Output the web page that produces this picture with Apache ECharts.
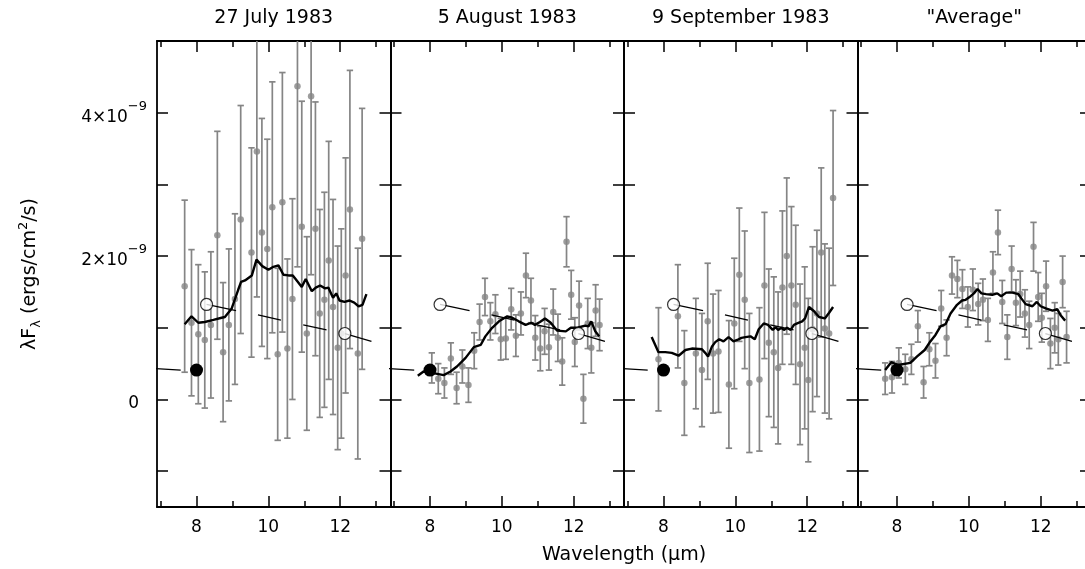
<!DOCTYPE html>
<html><head><meta charset="utf-8">
<script src="https://cdn.jsdelivr.net/npm/echarts@6/dist/echarts.min.js"></script>
<style>html,body{margin:0;padding:0;background:#fff}#c{width:1085px;height:569px}</style>
</head><body><div id="c"></div>
<script>
// ---------------- data (flux in units of 1e-9 ergs/cm2/s) ----------------
const panelTitles = ['27 July 1983', '5 August 1983', '9 September 1983', '"Average"'];
const wavelengths = [7.67, 7.86, 8.05, 8.23, 8.40, 8.58, 8.74, 8.90, 9.07, 9.23, 9.38, 9.53, 9.68, 9.82, 9.97, 10.11, 10.26, 10.39, 10.53, 10.67, 10.81, 10.93, 11.07, 11.19, 11.31, 11.43, 11.56, 11.68, 11.80, 11.93, 12.03, 12.15, 12.27, 12.39, 12.49, 12.61, 12.72];

const julyFlux = [1.58, 1.07, 0.91, 0.83, 1.04, 2.29, 0.66, 1.04, 1.40, 2.51, null, 2.05, 3.46, 2.33, 2.10, 2.68, 0.63, 2.75, 0.71, 1.40, 4.37, 2.41, 0.92, 4.23, 2.38, 1.20, 1.39, 1.94, 1.29, 0.72, 0.92, 1.73, 2.65, null, 0.64, 2.24, null];
const julyErr  = [1.20, 1.02, 0.97, 0.95, 1.02, 1.45, 0.97, 1.06, 1.19, 1.59, null, 1.46, 2.03, 1.59, 1.53, 1.75, 1.20, 1.81, 1.25, 1.40, 2.52, 1.75, 1.35, 2.49, 1.77, 1.45, 1.50, 1.66, 1.50, 1.42, 1.46, 1.64, 1.94, null, 1.47, 1.82, null];

const augFlux = [null, null, 0.44, 0.29, 0.23, 0.57, 0.16, 0.46, 0.20, 0.68, 1.08, 1.43, 1.09, 1.19, 0.84, 0.85, 1.26, 0.89, 1.20, 1.73, 1.38, 0.86, 0.71, 0.95, 0.73, 1.22, 0.86, 0.53, 2.20, 1.46, 0.80, 1.31, 0.01, 1.06, 0.72, 1.24, 1.04];
const augErr  = [null, null, 0.21, 0.21, 0.21, 0.22, 0.22, 0.23, 0.24, 0.25, 0.25, 0.26, 0.26, 0.27, 0.29, 0.29, 0.29, 0.29, 0.30, 0.31, 0.31, 0.31, 0.31, 0.32, 0.32, 0.32, 0.33, 0.33, 0.35, 0.34, 0.34, 0.34, 0.34, 0.35, 0.35, 0.36, 0.36];

const sepFlux = [null, 0.56, null, null, 1.16, 0.23, null, 0.64, 0.41, 1.09, 0.64, 0.67, null, 0.21, 1.06, 1.74, 1.39, 0.23, null, 0.28, 1.59, 0.79, 0.66, 0.44, 1.56, 2.00, 1.59, 1.32, 0.49, 0.72, 0.27, 0.98, 1.20, 2.05, 0.99, 0.92, 2.81];
const sepErr  = [null, 0.72, null, null, 0.72, 0.73, null, 0.77, 0.79, 0.81, 0.83, 0.85, null, 0.89, 0.91, 0.93, 0.96, 0.97, null, 1.00, 1.02, 1.03, 1.05, 1.06, 1.07, 1.09, 1.10, 1.11, 1.12, 1.13, 1.14, 1.15, 1.16, 1.18, 1.18, 1.19, 1.22];

const avgFlux = [0.29, 0.31, 0.51, 0.42, 0.56, 1.02, 0.24, 0.70, 0.54, 1.27, 0.86, 1.73, 1.68, 1.54, 1.29, 1.53, 1.33, 1.39, 1.11, 1.77, 2.33, 1.36, 0.87, 1.82, 1.35, 1.47, 1.20, 1.04, 2.13, 1.43, 1.14, 1.58, 0.78, 1.00, 0.84, 1.64, 0.87];
const avgErr  = [0.22, 0.22, 0.21, 0.21, 0.21, 0.22, 0.22, 0.23, 0.24, 0.25, 0.25, 0.26, 0.26, 0.27, 0.28, 0.29, 0.29, 0.29, 0.30, 0.29, 0.31, 0.30, 0.31, 0.32, 0.32, 0.32, 0.33, 0.33, 0.34, 0.34, 0.34, 0.35, 0.35, 0.35, 0.36, 0.36, 0.36];

const julyCurve = [[7.67,1.05],[7.86,1.16],[8.05,1.07],[8.23,1.08],[8.47,1.11],[8.70,1.14],[8.79,1.15],[8.98,1.27],[9.16,1.53],[9.24,1.64],[9.35,1.66],[9.54,1.73],[9.67,1.95],[9.83,1.86],[10.00,1.81],[10.14,1.85],[10.28,1.87],[10.42,1.74],[10.56,1.73],[10.68,1.73],[10.79,1.66],[10.93,1.57],[11.04,1.68],[11.21,1.51],[11.32,1.56],[11.44,1.59],[11.58,1.55],[11.67,1.56],[11.80,1.42],[11.89,1.48],[11.98,1.38],[12.12,1.36],[12.26,1.38],[12.39,1.35],[12.51,1.30],[12.62,1.32],[12.73,1.47]];
const augCurve = [[7.66,0.33],[7.82,0.39],[8.06,0.37],[8.38,0.34],[8.57,0.39],[8.75,0.46],[8.99,0.58],[9.22,0.73],[9.41,0.76],[9.54,0.88],[9.73,1.00],[9.92,1.09],[10.15,1.16],[10.29,1.14],[10.47,1.09],[10.66,1.04],[10.82,1.07],[10.92,1.04],[11.06,1.08],[11.20,1.13],[11.36,1.07],[11.54,0.96],[11.78,0.95],[11.92,1.00],[12.10,1.00],[12.32,1.03],[12.41,1.02],[12.49,1.09],[12.60,0.95],[12.71,0.88]];
const sepCurve = [[7.67,0.87],[7.86,0.66],[8.05,0.66],[8.23,0.65],[8.42,0.61],[8.61,0.69],[8.79,0.71],[9.07,0.70],[9.16,0.65],[9.24,0.60],[9.35,0.74],[9.44,0.80],[9.55,0.84],[9.67,0.81],[9.81,0.87],[9.95,0.81],[10.05,0.83],[10.17,0.86],[10.28,0.87],[10.42,0.88],[10.54,0.84],[10.65,0.98],[10.79,1.06],[10.91,1.04],[11.04,0.97],[11.12,1.01],[11.19,0.97],[11.28,1.00],[11.35,0.97],[11.44,1.00],[11.54,0.97],[11.63,1.04],[11.72,1.06],[11.86,1.09],[11.94,1.13],[12.05,1.29],[12.19,1.23],[12.33,1.15],[12.49,1.13],[12.61,1.21],[12.72,1.29]];
const avgCurve = [[7.67,0.41],[7.84,0.52],[8.03,0.48],[8.37,0.51],[8.56,0.60],[8.77,0.69],[8.90,0.79],[9.07,0.90],[9.21,1.02],[9.35,1.05],[9.49,1.20],[9.67,1.32],[9.81,1.38],[9.91,1.39],[10.05,1.44],[10.14,1.48],[10.24,1.54],[10.35,1.48],[10.48,1.47],[10.65,1.46],[10.79,1.48],[10.90,1.44],[11.04,1.49],[11.21,1.49],[11.38,1.47],[11.46,1.41],[11.58,1.33],[11.77,1.30],[11.89,1.36],[12.00,1.30],[12.14,1.27],[12.33,1.24],[12.46,1.26],[12.56,1.17],[12.68,1.10]];

// broadband photometry (same in every panel)
const filledPhot = [[8.00, 0.41]];
const openPhot = [[8.28, 1.325], [12.13, 0.92]];
const slopeSegs = [
  [[6.50, 0.44], [7.56, 0.41]],
  [[8.28, 1.325], [9.10, 1.24]],
  [[9.71, 1.18], [10.35, 1.105]],
  [[10.97, 1.04], [11.62, 0.97]],
  [[12.13, 0.92], [12.87, 0.81]]
];

const xMajorTicks = [8, 10, 12];
const xMinorTicks = [7, 9, 11, 13];
const yTicks = [-1, 0, 1, 2, 3, 4];
const yLabelTicks = [0, 2, 4];

// ---------------- layout ----------------
const panels = [
  {flux: julyFlux, err: julyErr, curve: julyCurve},
  {flux: augFlux, err: augErr, curve: augCurve},
  {flux: sepFlux, err: sepErr, curve: sepCurve},
  {flux: avgFlux, err: avgErr, curve: avgCurve}
];
const GL = [157, 390.5, 624, 857.5], GW = 233.5, GT = 41, GH = 466;
const XMIN = 6.9, XMAX = 13.4, YMIN = -1.5, YMAX = 5;
const GRAY = '#858585';
const FONT = 'DejaVu Sans';

const grid = [], xAxis = [], yAxis = [], series = [], graphic = [];

panels.forEach((p, i) => {
  grid.push({left: GL[i], top: GT, width: GW, height: GH, containLabel: false, outerBoundsMode: 'none'});
  const axLine = {show: true, onZero: false, lineStyle: {color: '#000', width: 1.8}};
  const noLine = {show: false, onZero: false};
  const xBase = {type: 'value', gridIndex: i, min: XMIN, max: XMAX, splitLine: {show: false}};
  xAxis.push(Object.assign({}, xBase, {
    position: 'bottom', axisLine: axLine,
    axisTick: {show: true, inside: true, length: 11, customValues: xMajorTicks, lineStyle: {color: '#000', width: 1.5}},
    axisLabel: {show: true, customValues: xMajorTicks, margin: 12, fontSize: 17, color: '#000', fontFamily: FONT}
  }));
  xAxis.push(Object.assign({}, xBase, {
    position: 'bottom', axisLine: noLine,
    axisTick: {show: true, inside: true, length: 6, customValues: xMinorTicks, lineStyle: {color: '#000', width: 1.5}},
    axisLabel: {show: false}
  }));
  xAxis.push(Object.assign({}, xBase, {
    position: 'top', axisLine: axLine,
    axisTick: {show: true, inside: true, length: 11, customValues: xMajorTicks, lineStyle: {color: '#000', width: 1.5}},
    axisLabel: {show: false}
  }));
  xAxis.push(Object.assign({}, xBase, {
    position: 'top', axisLine: noLine,
    axisTick: {show: true, inside: true, length: 6, customValues: xMinorTicks, lineStyle: {color: '#000', width: 1.5}},
    axisLabel: {show: false}
  }));
  const yBase = {type: 'value', gridIndex: i, min: YMIN, max: YMAX, splitLine: {show: false}, axisLine: axLine,
    axisTick: {show: true, inside: true, length: 11, customValues: yTicks, lineStyle: {color: '#000', width: 1.5}}};
  yAxis.push(Object.assign({}, yBase, {
    position: 'left',
    axisLabel: i === 0 ? {
      show: true, customValues: yLabelTicks, margin: 10, color: '#000', fontFamily: FONT,
      formatter: v => v === 0 ? '{z|0}' : '{b|' + v + '×10}{s|−9}',
      rich: {
        z: {fontSize: 17, fontFamily: FONT, color: '#000', lineHeight: 26, verticalAlign: 'bottom', padding: [0, 8, 0, 0]},
        b: {fontSize: 17, fontFamily: FONT, color: '#000', lineHeight: 26, verticalAlign: 'bottom'},
        s: {fontSize: 13, fontFamily: FONT, color: '#000', lineHeight: 13, verticalAlign: 'top'}
      }
    } : {show: false}
  }));
  yAxis.push(Object.assign({}, yBase, {position: 'right', axisLabel: {show: false}}));

  const pts = [];
  wavelengths.forEach((w, k) => {
    if (p.flux[k] !== null) pts.push([w, p.flux[k], p.err[k]]);
  });
  const xi = i * 4, yi = i * 2;
  series.push({
    type: 'custom', xAxisIndex: xi, yAxisIndex: yi, z: 2, silent: true,
    data: pts, encode: {x: 0, y: 1},
    renderItem: (params, api) => {
      const x = api.value(0), y = api.value(1), e = api.value(2);
      const hi = Math.min(y + e, YMAX), lo = Math.max(y - e, YMIN);
      const t = api.coord([x, hi]), b = api.coord([x, lo]);
      const st = {stroke: GRAY, lineWidth: 1.7};
      const ch = [{type: 'line', shape: {x1: t[0], y1: t[1], x2: b[0], y2: b[1]}, style: st}];
      if (y + e < YMAX) ch.push({type: 'line', shape: {x1: t[0] - 3.2, y1: t[1], x2: t[0] + 3.2, y2: t[1]}, style: st});
      if (y - e > YMIN) ch.push({type: 'line', shape: {x1: b[0] - 3.2, y1: b[1], x2: b[0] + 3.2, y2: b[1]}, style: st});
      return {type: 'group', children: ch};
    }
  });
  series.push({
    type: 'scatter', xAxisIndex: xi, yAxisIndex: yi, z: 3, silent: true,
    data: pts.map(d => [d[0], d[1]]), symbol: 'circle', symbolSize: 6.5,
    itemStyle: {color: GRAY}
  });
  series.push({
    type: 'line', xAxisIndex: xi, yAxisIndex: yi, z: 4, silent: true, data: p.curve,
    showSymbol: false, symbol: 'none', lineStyle: {color: '#000', width: 2.4}
  });
  slopeSegs.forEach(seg => series.push({
    type: 'line', xAxisIndex: xi, yAxisIndex: yi, z: 5, silent: true, data: seg, clip: true,
    showSymbol: false, symbol: 'none', lineStyle: {color: '#000', width: 1.3}
  }));
  series.push({
    type: 'scatter', xAxisIndex: xi, yAxisIndex: yi, z: 6, silent: true, data: openPhot,
    symbol: 'circle', symbolSize: 12, itemStyle: {color: '#fff', borderColor: '#000', borderWidth: 1.2}
  });
  series.push({
    type: 'scatter', xAxisIndex: xi, yAxisIndex: yi, z: 6, silent: true, data: filledPhot,
    symbol: 'circle', symbolSize: 13, itemStyle: {color: '#000', opacity: 1}
  });

  graphic.push({
    type: 'text', x: GL[i] + GW / 2, y: 18,
    style: {text: panelTitles[i], font: '19px "' + FONT + '"', fill: '#000',
      textAlign: 'center', align: 'center', textVerticalAlign: 'middle', verticalAlign: 'middle'}
  });
});

graphic.push({
  type: 'text', x: 624, y: 555,
  style: {text: 'Wavelength (μm)', font: '19px "' + FONT + '"', fill: '#000',
    textAlign: 'center', align: 'center', textVerticalAlign: 'middle', verticalAlign: 'middle'}
});
graphic.push({
  type: 'text', x: 30, y: 274, rotation: Math.PI / 2,
  style: {text: 'λF{sub|λ} (ergs/cm{sup|2}/s)', font: '19px "' + FONT + '"', fill: '#000',
    textAlign: 'center', align: 'center', textVerticalAlign: 'middle', verticalAlign: 'middle',
    lineHeight: 26,
    rich: {
      sub: {fontSize: 13, fontFamily: FONT, fill: '#000', lineHeight: 13, verticalAlign: 'bottom'},
      sup: {fontSize: 13, fontFamily: FONT, fill: '#000', lineHeight: 13, verticalAlign: 'top'}
    }}
});

const chart = echarts.init(document.getElementById('c'), null, {renderer: 'canvas'});
chart.setOption({animation: false, backgroundColor: '#fff', grid, xAxis, yAxis, series, graphic});
</script></body></html>
